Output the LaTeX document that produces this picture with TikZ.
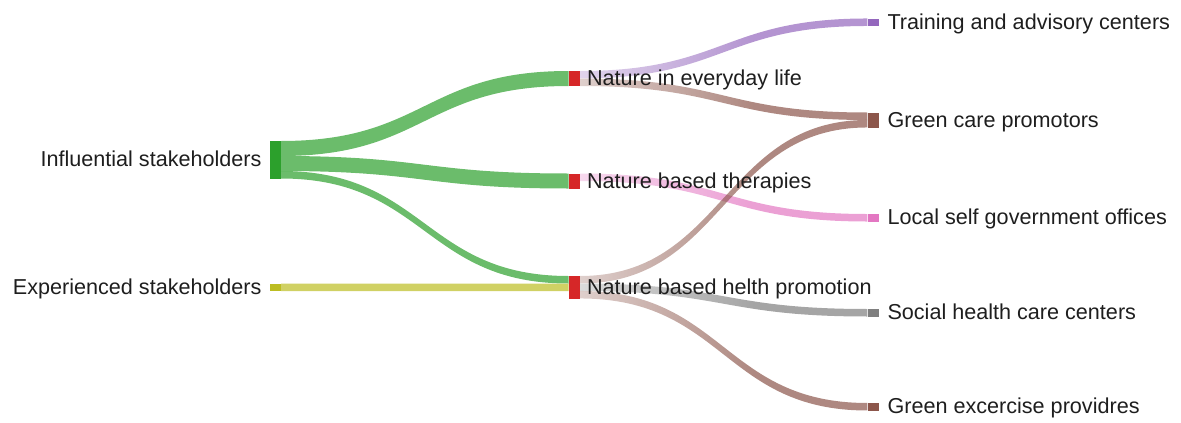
\documentclass[tikz,border=0pt]{standalone}
\usepackage{fontspec}
\setmainfont{Liberation Sans}
\usetikzlibrary{calc,fadings}

\definecolor{cgreen}{HTML}{2CA02C}
\definecolor{cyellow}{HTML}{BCBD22}
\definecolor{cred}{HTML}{D62728}
\definecolor{cpurple}{HTML}{9467BD}
\definecolor{cbrown}{HTML}{8C564B}
\definecolor{cpink}{HTML}{E377C2}
\definecolor{cgrey}{HTML}{7F7F7F}
\definecolor{labelc}{HTML}{1E1E1E}

% ribbons leaving the middle column start pale and reach full colour halfway
\pgfdeclarehorizontalshading{ribbonfadeshading}{100bp}{color(0bp)=(pgftransparent!85); color(20bp)=(pgftransparent!70); color(55bp)=(pgftransparent!0); color(100bp)=(pgftransparent!0)}
\pgfdeclarefading{ribbonfade}{\pgfuseshading{ribbonfadeshading}}

\pgfdeclarelayer{bg}
\pgfsetlayers{bg,main}

% #1 style, #2 source node, #3 offset below its top, #4 target node, #5 offset below its top, #6 thickness
\newcommand\ribbon[6]{%
  \path[#1] let \p1=(#2.north east), \p2=(#4.north west) in
    (\x1,{\y1-#3pt}) .. controls ({(\x1+\x2)/2},{\y1-#3pt}) and ({(\x1+\x2)/2},{\y2-#5pt}) .. (\x2,{\y2-#5pt})
    -- (\x2,{\y2-#5pt-#6pt}) .. controls ({(\x1+\x2)/2},{\y2-#5pt-#6pt}) and ({(\x1+\x2)/2},{\y1-#3pt-#6pt}) .. (\x1,{\y1-#3pt-#6pt}) -- cycle;}

\tikzset{
  bar/.style={rectangle, inner sep=0pt, outer sep=0pt, draw=none, minimum width=11.5pt, fill=#1},
  lab/.style={inner sep=0pt, outer sep=0pt, text=labelc, font=\fontsize{21.6}{26}\selectfont, text height=0.716em, text depth=0pt},
  solidlink/.style={fill=#1, fill opacity=0.7},
  fadelink/.style={fill=#1, fill opacity=0.7, path fading=ribbonfade},
}

\begin{document}
\begin{tikzpicture}[x=1pt,y=-1pt]
\useasboundingbox (0,0) rectangle (1181,423);

% node bars
\node[bar=cgreen, minimum height=37.5pt] (infl) at (275.25,159.75) {};
\node[bar=cyellow, minimum height=7.5pt] (exper) at (275.25,287.25) {};
\node[bar=cred, minimum height=15pt] (everyday) at (574.25,78.5) {};
\node[bar=cred, minimum height=15pt] (therap) at (574.25,181) {};
\node[bar=cred, minimum height=22.5pt] (helth) at (574.25,287.25) {};
\node[bar=cpurple, minimum height=7.5pt] (train) at (873.25,22.25) {};
\node[bar=cbrown, minimum height=15pt] (gcare) at (873.25,120) {};
\node[bar=cpink, minimum height=7.5pt] (local) at (873.25,217.75) {};
\node[bar=cgrey, minimum height=7.5pt] (social) at (873.25,312.75) {};
\node[bar=cbrown, minimum height=7.5pt] (gexc) at (873.25,406.75) {};

% labels
\node[lab, anchor=east] (linfl) at ($(infl.west)+(-8,3.5)$) {Influential stakeholders};
\node[lab, anchor=east] (lexper) at ($(exper.west)+(-8,3.5)$) {Experienced stakeholders};
\node[lab, anchor=west] (leveryday) at ($(everyday.east)+(7,3.5)$) {Nature in everyday life};
\node[lab, anchor=west] (ltherap) at ($(therap.east)+(7,3.5)$) {Nature based therapies};
\node[lab, anchor=west] (lhelth) at ($(helth.east)+(7,3.5)$) {Nature based helth promotion};
\node[lab, anchor=west] (ltrain) at ($(train.east)+(8.5,3.5)$) {Training and advisory centers};
\node[lab, anchor=west] (lgcare) at ($(gcare.east)+(8.5,3.5)$) {Green care promotors};
\node[lab, anchor=west] (llocal) at ($(local.east)+(8.5,3.5)$) {Local self government offices};
\node[lab, anchor=west] (lsocial) at ($(social.east)+(8.5,3.5)$) {Social health care centers};
\node[lab, anchor=west] (lgexc) at ($(gexc.east)+(8.5,3.5)$) {Green excercise providres};

% flows
\begin{pgfonlayer}{bg}
\ribbon{solidlink=cgreen}{infl}{0}{everyday}{0}{15}
\ribbon{solidlink=cgreen}{infl}{15}{therap}{0}{15}
\ribbon{solidlink=cgreen}{infl}{30}{helth}{0}{7.5}
\ribbon{solidlink=cyellow}{exper}{0}{helth}{7.5}{7.5}
\ribbon{fadelink=cpurple}{everyday}{0}{train}{0}{7.5}
\ribbon{fadelink=cbrown}{everyday}{7.5}{gcare}{0}{7.5}
\ribbon{fadelink=cpink}{therap}{0}{local}{0}{7.5}
\ribbon{fadelink=cbrown}{helth}{0}{gcare}{7.5}{7.5}
\ribbon{fadelink=cgrey}{helth}{7.5}{social}{0}{7.5}
\ribbon{fadelink=cbrown}{helth}{15}{gexc}{0}{7.5}
\end{pgfonlayer}
\end{tikzpicture}
\end{document}
